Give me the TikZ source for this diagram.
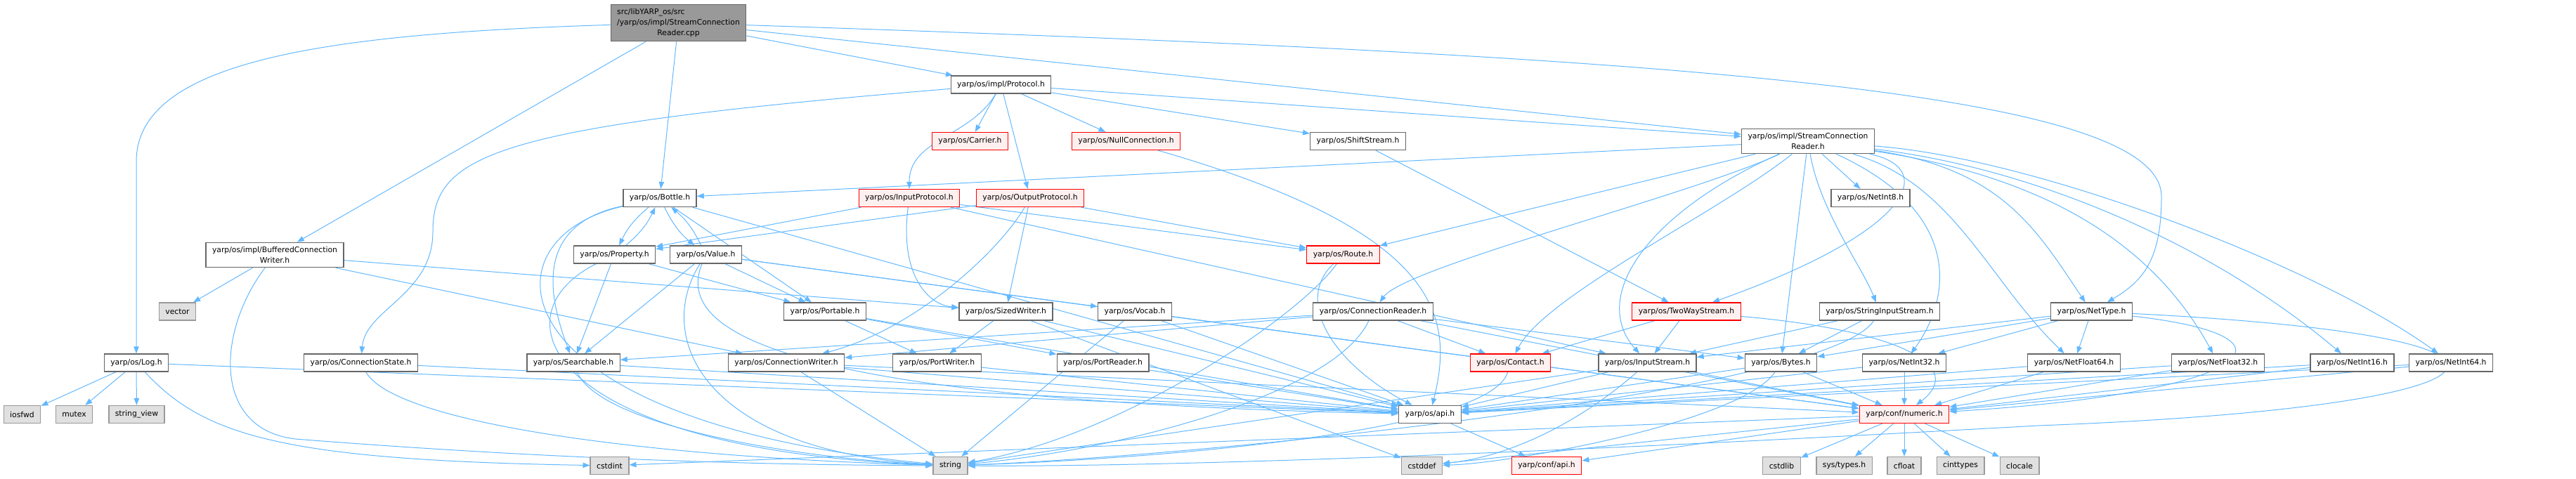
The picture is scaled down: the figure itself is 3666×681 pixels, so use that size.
\documentclass[tikz,border=0pt]{standalone}
\usepackage{fontspec}
\setmainfont{DejaVu Sans}
\usepackage{tikz}
\usetikzlibrary{arrows.meta}
\usetikzlibrary{backgrounds}

\definecolor{edgeblue}{RGB}{99,184,255}
\definecolor{boxline}{RGB}{102,102,102}
\definecolor{topfill}{RGB}{153,153,153}
\definecolor{sysfill}{RGB}{224,224,224}
\definecolor{sysline}{RGB}{153,153,153}
\definecolor{cutfill}{RGB}{255,240,240}

\tikzset{
  file/.style={rectangle, draw=boxline, fill=white, line width=1.3pt, inner xsep=9pt, inner ysep=6pt,
    minimum height=25pt, align=center, font=\fontsize{10.8}{15}\selectfont},
  cutfile/.style={file, draw=red, fill=cutfill},
  sysfile/.style={file, draw=sysline, fill=sysfill},
  topfile/.style={file, fill=topfill},
  dep/.style={draw=edgeblue, line width=1pt, -{Triangle[length=10pt,width=7.5pt]}}
}

\begin{document}
\begin{tikzpicture}[x=1pt,y=-1pt]
	\useasboundingbox (0,0) rectangle (3666,681);
	
	% files
	\node[topfile] (root) at (965.5,32.5) {\rlap{src/libYARP\_os/src}\phantom{/yarp/os/impl/StreamConnection}\\/yarp/os/impl/StreamConnection\\Reader.cpp};
	\node[file] (bottle) at (939,282) {yarp/os/Bottle.h};
	\node[file] (protocol) at (1424.5,120.5) {yarp/os/impl/Protocol.h};
	\node[cutfile] (carrier) at (1380.5,201) {yarp/os/Carrier.h};
	\node[cutfile] (nullconn) at (1602.5,201) {yarp/os/NullConnection.h};
	\node[cutfile] (inproto) at (1294,282) {yarp/os/InputProtocol.h};
	\node[cutfile] (outproto) at (1466,282) {yarp/os/OutputProtocol.h};
	\node[file] (shift) at (1932.5,201) {yarp/os/ShiftStream.h};
	\node[file] (scrh) at (2573,201) {yarp/os/impl/StreamConnection\\Reader.h};
	\node[file] (ni8) at (2662,282) {yarp/os/NetInt8.h};
	\node[file] (bcw) at (391,363) {yarp/os/impl/BufferedConnection\\Writer.h};
	\node[sysfile] (vector) at (252.5,443.5) {vector};
	\node[file] (log) at (194,516.5) {yarp/os/Log.h};
	\node[sysfile] (iosfwd) at (31.5,590) {iosfwd};
	\node[sysfile] (mutex) at (105.5,590) {mutex};
	\node[sysfile] (strview) at (194.5,590) {string\_view};
	\node[file] (cstate) at (513.5,516.5) {yarp/os/ConnectionState.h};
	\node[file] (property) at (874.5,362.5) {yarp/os/Property.h};
	\node[file] (value) at (1004.5,362.5) {yarp/os/Value.h};
	\node[file] (searchable) at (816,516.5) {yarp/os/Searchable.h};
	\node[file] (cwriter) at (1119,516.5) {yarp/os/ConnectionWriter.h};
	\node[sysfile] (cstdint) at (867.5,663) {cstdint};
	\node[file] (portable) at (1174,443.5) {yarp/os/Portable.h};
	\node[file] (sized) at (1431.5,443.5) {yarp/os/SizedWriter.h};
	\node[file] (vocab) at (1615,443.5) {yarp/os/Vocab.h};
	\node[file] (pwriter) at (1333.5,516.5) {yarp/os/PortWriter.h};
	\node[file] (preader) at (1569.5,516.5) {yarp/os/PortReader.h};
	\node[sysfile] (string) at (1352.5,663) {string};
	\node[cutfile] (route) at (1911.5,362.5) {yarp/os/Route.h};
	\node[file] (creader) at (1954,443.5) {yarp/os/ConnectionReader.h};
	\node[cutfile] (contact) at (2149.5,516.5) {yarp/os/Contact.h};
	\node[file] (instream) at (2344.5,516.5) {yarp/os/InputStream.h};
	\node[file] (osapi) at (2035,590) {yarp/os/api.h};
	\node[sysfile] (cstddef) at (2023.5,663) {cstddef};
	\node[cutfile] (confapi) at (2201,663) {yarp/conf/api.h};
	\node[cutfile] (twoway) at (2400,443.5) {yarp/os/TwoWayStream.h};
	\node[file] (strin) at (2675,443.5) {yarp/os/StringInputStream.h};
	\node[file] (bytes) at (2534.5,516.5) {yarp/os/Bytes.h};
	\node[file] (ni32) at (2710,516.5) {yarp/os/NetInt32.h};
	\node[file] (ntype) at (2976.5,443.5) {yarp/os/NetType.h};
	\node[file] (nf64) at (2951.5,516.5) {yarp/os/NetFloat64.h};
	\node[cutfile] (numeric) at (2710,590) {yarp/conf/numeric.h};
	\node[sysfile] (cstdlib) at (2535.5,663) {cstdlib};
	\node[sysfile] (systypes) at (2624.5,663) {sys/types.h};
	\node[sysfile] (cfloat) at (2710,663) {cfloat};
	\node[sysfile] (cinttypes) at (2790,663) {cinttypes};
	\node[sysfile] (clocale) at (2874,663) {clocale};
	\node[file] (nf32) at (3156.5,516.5) {yarp/os/NetFloat32.h};
	\node[file] (ni16) at (3347.5,516.5) {yarp/os/NetInt16.h};
	\node[file] (ni64) at (3488,516.5) {yarp/os/NetInt64.h};
	
	% includes
	\begin{scope}[on background layer]
	\foreach \a/\b in {root/bcw, root/bottle, root/protocol, root/scrh,
		log/iosfwd, log/mutex, log/strview, log/osapi,
		bcw/vector, bcw/cwriter, bcw/sized,
		protocol/carrier, protocol/outproto, protocol/nullconn, protocol/shift, protocol/scrh,
		bottle/portable, bottle/osapi,
		property/searchable, property/portable,
		value/searchable, value/portable, value/vocab, value/numeric,
		searchable/osapi, cstate/osapi,
		cwriter/osapi, cwriter/numeric, cwriter/string,
		portable/pwriter, portable/preader, portable/osapi,
		sized/pwriter, sized/osapi, sized/cstddef,
		vocab/string, vocab/osapi, vocab/numeric,
		pwriter/osapi, preader/osapi,
		inproto/property, inproto/route, inproto/instream,
		outproto/sized, outproto/route, outproto/property,
		shift/twoway,
		creader/searchable, creader/cwriter, creader/contact, creader/bytes, creader/numeric,
		instream/osapi, instream/numeric, instream/string,
		twoway/instream, twoway/contact,
		strin/instream, strin/bytes,
		bytes/osapi, bytes/numeric,
		ni32/numeric, ni32/osapi,
		ntype/bytes, ntype/instream, ntype/ni32, ntype/nf64,
		nf64/numeric, nf64/osapi, nf32/numeric, nf32/osapi,
		ni16/numeric, ni16/osapi, ni64/numeric, ni64/osapi,
		scrh/bottle, scrh/route, scrh/bytes, scrh/ni8,
		numeric/cstdlib, numeric/systypes, numeric/cfloat, numeric/cinttypes, numeric/clocale,
		numeric/cstddef, numeric/cstdint, numeric/confapi,
		osapi/confapi}
		\draw[dep] (\a) -- (\b);
	
	\draw[dep] (bottle) to[bend right=12] (property);
	\draw[dep] (property) to[bend right=12] (bottle);
	\draw[dep] (bottle) to[bend right=12] (value);
	\draw[dep] (value) to[bend right=12] (bottle);
	
	\draw[dep] (root) .. controls (450,48) and (194,90) .. (194,230) -- (log);
	\draw[dep] (root) .. controls (2400,80) and (3076,130) .. (3076,280) .. controls (3076,370) and (3050,400) .. (ntype);
	\draw[dep] (protocol) .. controls (700,180) and (616,220) .. (616,330) .. controls (616,420) and (520,440) .. (cstate);
	\draw[dep] (protocol) to[out=-120,in=90] (inproto);
	\draw[dep] (bcw) .. controls (310,470) and (300,610) .. (420,625) .. controls (800,655) and (1100,662) .. (string);
	\draw[dep] (log) .. controls (290,620) and (400,655) .. (cstdint);
	\draw[dep] (bottle) .. controls (760,320) and (780,420) .. (searchable);
	\draw[dep] (bottle) .. controls (680,340) and (700,600) .. (string);
	\draw[dep] (property) .. controls (700,450) and (780,640) .. (string);
	\draw[dep] (value) .. controls (930,480) and (1000,640) .. (string);
	\draw[dep] (value) .. controls (960,470) and (1100,570) .. (osapi);
	\draw[dep] (searchable) .. controls (850,600) and (1100,650) .. (string);
	\draw[dep] (cstate) .. controls (560,600) and (900,650) .. (string);
	\draw[dep] (inproto) .. controls (1280,390) and (1320,434) .. (sized);
	\draw[dep] (outproto) .. controls (1420,360) and (1300,470) .. (cwriter);
	\draw[dep] (nullconn) .. controls (2050,330) and (2070,450) .. (osapi);
	\draw[dep] (route) .. controls (1850,450) and (1600,620) .. (string);
	\draw[dep] (route) .. controls (1840,430) and (1900,520) .. (osapi);
	\draw[dep] (creader) .. controls (1900,560) and (1600,640) .. (string);
	\draw[dep] (contact) .. controls (2120,620) and (1600,655) .. (string);
	\draw[dep] (instream) .. controls (2250,600) and (2150,650) .. (cstddef);
	\draw[dep] (twoway) .. controls (2700,470) and (2800,520) .. (numeric);
	\draw[dep] (strin) .. controls (2600,560) and (1700,650) .. (string);
	\draw[dep] (bytes) .. controls (2480,600) and (2150,660) .. (cstddef);
	\draw[dep] (ntype) .. controls (3300,480) and (3200,560) .. (numeric);
	\draw[dep] (ntype) .. controls (3700,480) and (3600,580) .. (2900,606) .. controls (2300,640) and (1700,665) .. (string);
	
	% fan out of StreamConnectionReader.h
	\draw[dep] (scrh) .. controls (2760,240) and (2720,330) .. (twoway);
	\draw[dep] (scrh) .. controls (2900,225) and (3300,380) .. (ni64);
	\draw[dep] (scrh) .. controls (2900,240) and (3150,350) .. (ni16);
	\draw[dep] (scrh) .. controls (2900,250) and (3060,340) .. (nf32);
	\draw[dep] (scrh) .. controls (2780,260) and (2830,400) .. (nf64);
	\draw[dep] (scrh) .. controls (2850,240) and (2900,330) .. (ntype);
	\draw[dep] (scrh) .. controls (2790,300) and (2780,420) .. (ni32);
	\draw[dep] (scrh) .. controls (2590,300) and (2650,380) .. (strin);
	\draw[dep] (scrh) .. controls (2450,300) and (2200,420) .. (contact);
	\draw[dep] (scrh) .. controls (2400,280) and (2000,380) .. (creader);
	\draw[dep] (scrh) .. controls (2350,300) and (2260,420) .. (instream);
	\end{scope}
\end{tikzpicture}
\end{document}
